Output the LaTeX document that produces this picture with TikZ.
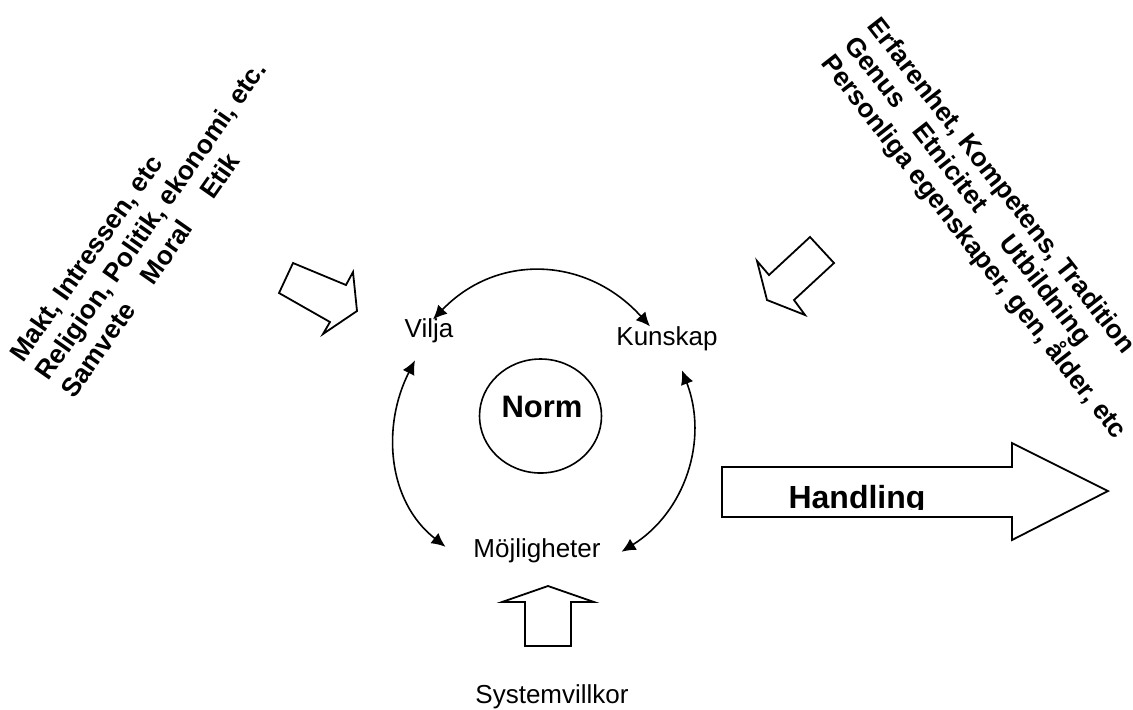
\documentclass[tikz,border=0pt]{standalone}
\usepackage{fontspec}
\setmainfont{Liberation Sans}
\usetikzlibrary{arrows.meta}
\usetikzlibrary{shapes.geometric}

\begin{document}
\begin{tikzpicture}[x=0.5pt,y=-0.5pt,
    lbl/.style={font=\fontsize{13}{15}\selectfont,inner sep=0pt,anchor=base},
    side/.style={font=\bfseries\fontsize{13.2}{15.6}\selectfont,align=left,inner sep=0pt,anchor=base west},
    link/.style={{Latex[length=7pt,width=6.5pt]}-{Latex[length=7pt,width=6.5pt]},line width=0.8pt},
    block/.style={draw,line width=0.9pt,line join=miter}]
    \useasboundingbox (0,0) rectangle (1133,709);
    \node[side,rotate=55] (krafter) at (74,400) {Makt, Intressen, etc\\Religion, Politik, ekonomi, etc.\\Samvete\hspace{15pt}Moral\hspace{17pt}Etik};
    \node[side,rotate=-52,font=\bfseries\fontsize{13.2}{14.8}\selectfont] (bakgrund) at (820,63) {Erfarenhet, Kompetens, Tradition\\Genus\hspace{14pt}Etnicitet\hspace{19pt}Utbildning\\Personliga egenskaper, gen, ålder, etc};
    \node[lbl] (vilja) at (429,337) {Vilja};
    \node[lbl] (kunskap) at (667,345) {Kunskap};
    \node[lbl] (moj) at (537,557) {Möjligheter};
    \node[lbl] (system) at (552,703) {Systemvillkor};
    \node[draw,ellipse,line width=0.8pt,minimum width=61pt,minimum height=57pt] (norm) at (540.5,416) {};
    \node[lbl,font=\bfseries\fontsize{15.5}{18}\selectfont] (normtext) at (542,417) {Norm};
    \draw[link] ([shift={(4,1.6)}]vilja.north) to[out=46,in=132,looseness=1.1] ([shift={(-17,0.6)}]kunskap.north);
    \draw[link] ([shift={(-14,17.5)}]vilja.south) to[out=243,in=142] ([shift={(-27.5,-3.5)}]moj.west);
    \draw[link] ([shift={(15,19.5)}]kunskap.south) to[out=-69,in=32] ([shift={(20.5,1.5)}]moj.east);
    \draw[block] (279,293) -- (293,263) -- (346,285) -- (353,272) -- (357,311) -- (323,334) -- (330,322) -- cycle;
    \draw[block] (810,237) -- (834,263) -- (794,300) -- (805,315) -- (767,300) -- (757,261) -- (769,275) -- cycle;
    \draw[block] (548,586) -- (594,602) -- (571,602) -- (571,646) -- (525,646) -- (525,602) -- (502,602) -- cycle;
    \draw[block] (722,467) -- (1012,467) -- (1012,443) -- (1108,491) -- (1012,540) -- (1012,517) -- (722,517) -- cycle;
    \begin{scope}
        \clip (722,440) rectangle (1010,509.5);
        \node[lbl,font=\bfseries\fontsize{16}{19}\selectfont] (handling) at (857,508) {Handling};
    \end{scope}
\end{tikzpicture}
\end{document}
